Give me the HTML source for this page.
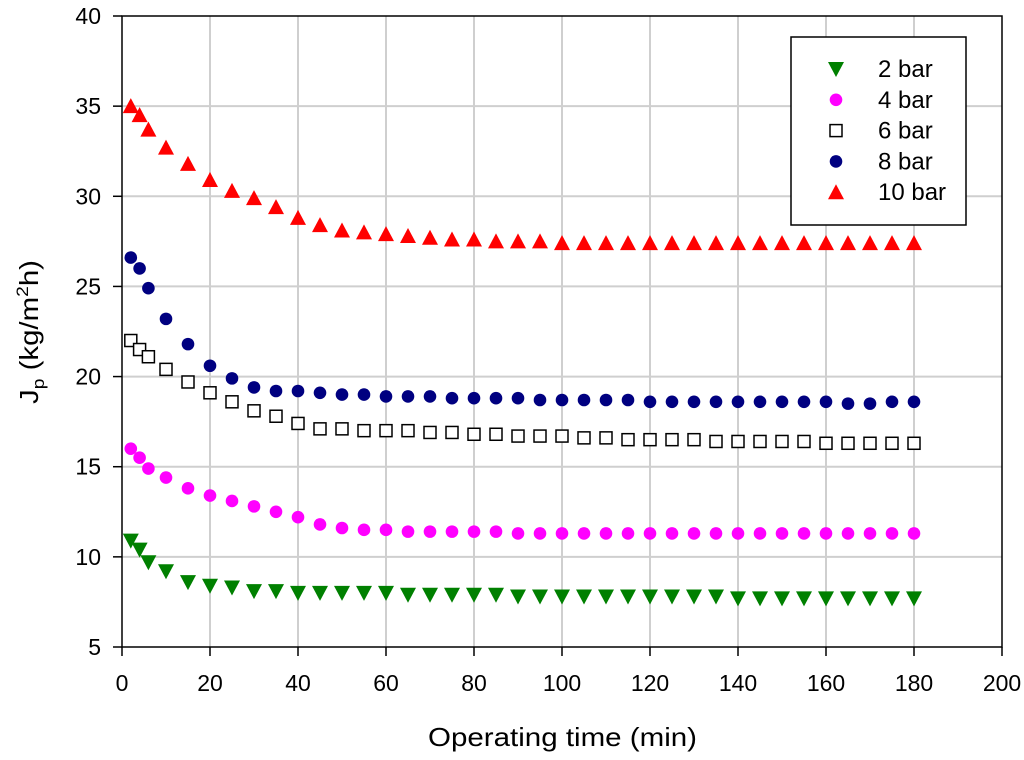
<!DOCTYPE html>
<html><head><meta charset="utf-8"><style>
body{margin:0;background:#fff}
svg text{font-family:"Liberation Sans",Arial,sans-serif;fill:#000}
</style></head><body>
<svg id="chart" width="1024" height="755" viewBox="0 0 1024 755" xmlns="http://www.w3.org/2000/svg">
<g id="grid"></g>
<g id="axes"></g>
<g id="marks"></g>
<text x="428" y="746" font-size="26" textLength="269" lengthAdjust="spacingAndGlyphs">Operating time (min)</text>
<text transform="translate(38,404) rotate(-90)" font-size="26" textLength="144" lengthAdjust="spacingAndGlyphs">J<tspan font-size="17" dy="6">p</tspan><tspan dy="-6"> (kg/m</tspan><tspan font-size="17" dy="-10">2</tspan><tspan dy="10">h)</tspan></text>
<g id="legend"><rect x="791" y="37" width="175" height="188" fill="#fff" stroke="#000" stroke-width="1.5"/></g>
</svg>
<script>
const times=[2,4,6,10,15,20,25,30,35,40,45,50,55,60,65,70,75,80,85,90,95,100,105,110,115,120,125,130,135,140,145,150,155,160,165,170,175,180];
const bar2=[10.9,10.4,9.7,9.2,8.6,8.4,8.3,8.1,8.1,8.0,8.0,8.0,8.0,8.0,7.9,7.9,7.9,7.9,7.9,7.8,7.8,7.8,7.8,7.8,7.8,7.8,7.8,7.8,7.8,7.7,7.7,7.7,7.7,7.7,7.7,7.7,7.7,7.7];
const bar4=[16.0,15.5,14.9,14.4,13.8,13.4,13.1,12.8,12.5,12.2,11.8,11.6,11.5,11.5,11.4,11.4,11.4,11.4,11.4,11.3,11.3,11.3,11.3,11.3,11.3,11.3,11.3,11.3,11.3,11.3,11.3,11.3,11.3,11.3,11.3,11.3,11.3,11.3];
const bar6=[22.0,21.5,21.1,20.4,19.7,19.1,18.6,18.1,17.8,17.4,17.1,17.1,17.0,17.0,17.0,16.9,16.9,16.8,16.8,16.7,16.7,16.7,16.6,16.6,16.5,16.5,16.5,16.5,16.4,16.4,16.4,16.4,16.4,16.3,16.3,16.3,16.3,16.3];
const bar8=[26.6,26.0,24.9,23.2,21.8,20.6,19.9,19.4,19.2,19.2,19.1,19.0,19.0,18.9,18.9,18.9,18.8,18.8,18.8,18.8,18.7,18.7,18.7,18.7,18.7,18.6,18.6,18.6,18.6,18.6,18.6,18.6,18.6,18.6,18.5,18.5,18.6,18.6];
const bar10=[35.0,34.5,33.7,32.7,31.8,30.9,30.3,29.9,29.4,28.8,28.4,28.1,28.0,27.9,27.8,27.7,27.6,27.6,27.5,27.5,27.5,27.4,27.4,27.4,27.4,27.4,27.4,27.4,27.4,27.4,27.4,27.4,27.4,27.4,27.4,27.4,27.4,27.4];
const xTicks=[0,20,40,60,80,100,120,140,160,180,200];
const yTicks=[5,10,15,20,25,30,35,40];
const seriesNames=["2 bar","4 bar","6 bar","8 bar","10 bar"];

const NS="http://www.w3.org/2000/svg";
const X0=122,X1=1002,Y0=647,Y1=16;
const xs=v=>X0+(v-0)/200*(X1-X0);
const ys=v=>Y0-(v-5)/35*(Y0-Y1);
function mk(tag,attrs,parent){const e=document.createElementNS(NS,tag);for(const k in attrs)e.setAttribute(k,attrs[k]);parent.appendChild(e);return e;}
const grid=document.getElementById('grid'),axes=document.getElementById('axes'),marks=document.getElementById('marks'),legend=document.getElementById('legend');
xTicks.forEach(t=>{const x=xs(t);
 if(t>0&&t<200){const g=mk('line',{x1:x,x2:x,y1:Y1,y2:Y0,stroke:'#cfcfcf','stroke-width':2},grid);
 
 }
 const tk=mk('line',{x1:x,x2:x,y1:Y0,y2:Y0+9,stroke:'#000','stroke-width':1.5},axes);
 
 
 const lb=mk('text',{x:x,y:Y0+44,'font-size':23,'text-anchor':'middle'},axes);lb.textContent=t;
 
 
});
yTicks.forEach(t=>{const y=ys(t);
 if(t>5&&t<40){const g=mk('line',{x1:X0,x2:X1,y1:y,y2:y,stroke:'#cfcfcf','stroke-width':2},grid);
 
 }
 const tk=mk('line',{x1:X0-9,x2:X0,y1:y,y2:y,stroke:'#000','stroke-width':1.5},axes);
 
 
 const lb=mk('text',{x:X0-21,y:y+8,'font-size':23,'text-anchor':'end'},axes);lb.textContent=t;
 
 
});
const fr=mk('rect',{x:X0,y:Y1,width:X1-X0,height:Y0-Y1,fill:'none',stroke:'#000','stroke-width':1.5},axes);



function marker(kind,x,y,parent){
 if(kind==0)return mk('polygon',{points:`${x-8},${y-7} ${x+8},${y-7} ${x},${y+8}`,fill:'#008000'},parent);
 if(kind==1)return mk('circle',{cx:x,cy:y,r:6.3,fill:'#ff00ff'},parent);
 if(kind==2)return mk('rect',{x:x-6,y:y-6,width:12,height:12,fill:'#fff',stroke:'#000','stroke-width':1.5},parent);
 if(kind==3)return mk('circle',{cx:x,cy:y,r:6.3,fill:'#000080'},parent);
 return mk('polygon',{points:`${x-8},${y+7} ${x+8},${y+7} ${x},${y-8}`,fill:'#ff0000'},parent);
}
const allSeries=[bar2,bar4,bar6,bar8,bar10];
allSeries.forEach((s,k)=>{
 s.forEach((v,i)=>{const m=marker(k,xs(times[i]),ys(v),marks);
  
  });
 const ly=69+k*30.8;
 const lm=marker(k,836,ly,legend);
 
 
 const lt=mk('text',{x:878,y:ly+8,'font-size':24},legend);lt.textContent=seriesNames[k];
 
 
});
</script>
</body></html>
